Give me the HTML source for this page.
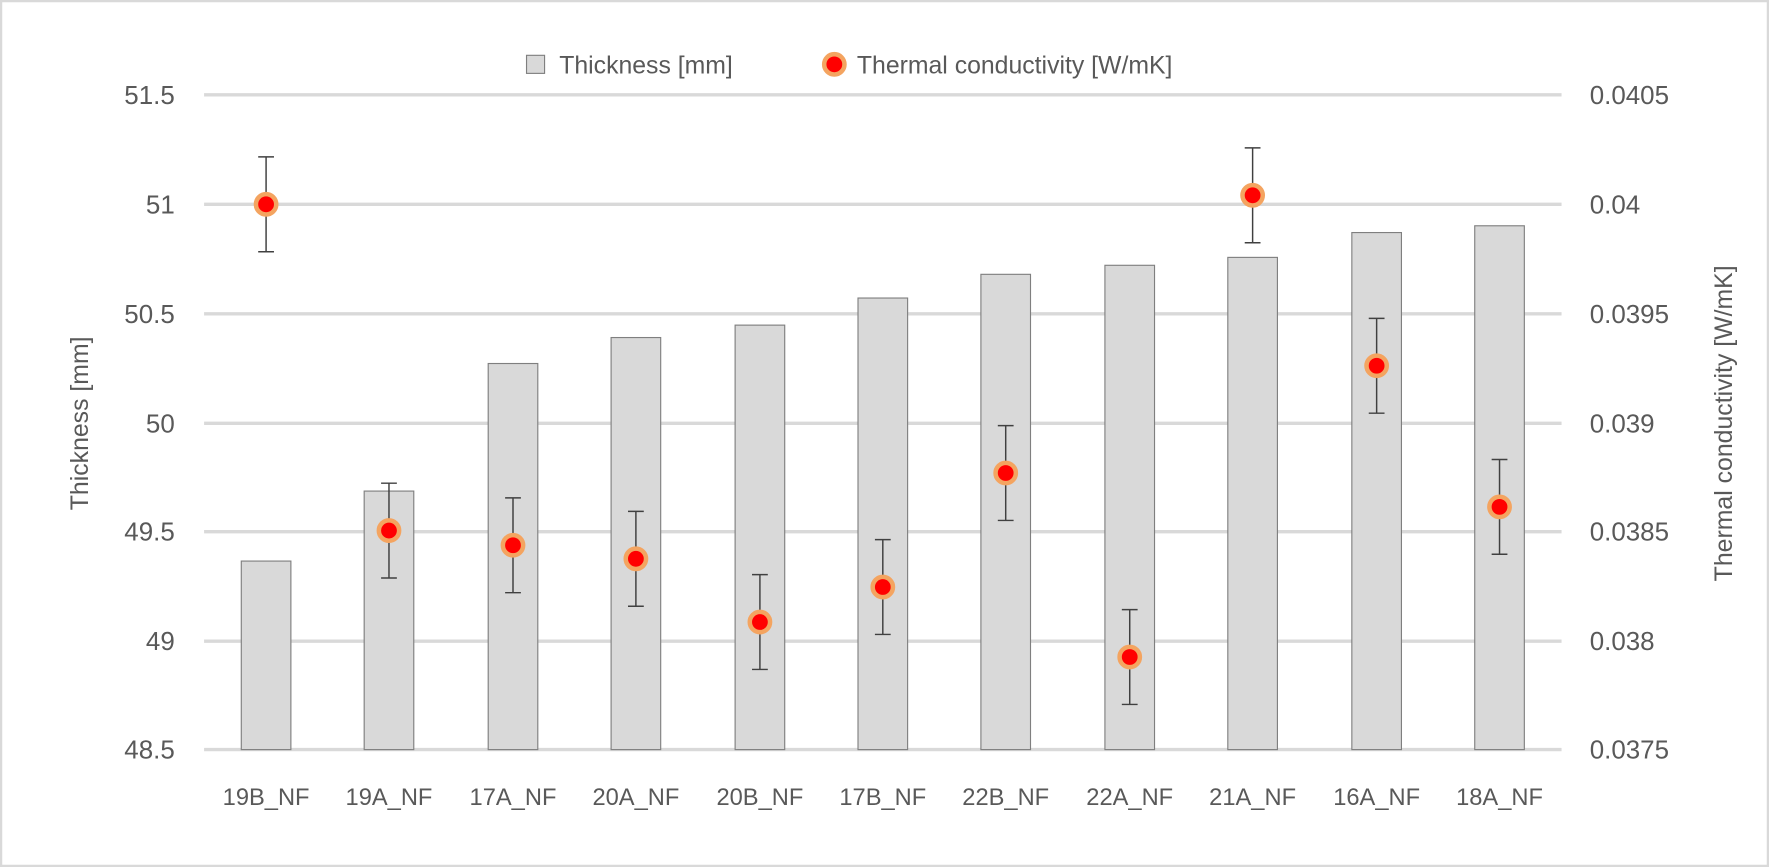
<!DOCTYPE html>
<html><head><style>html,body{margin:0;padding:0;background:#fff}svg{display:block}</style></head>
<body>
<svg width="1769" height="867" viewBox="0 0 1569 768" preserveAspectRatio="none" font-family="Liberation Sans, sans-serif" fill="#595959">
<rect x="1" y="1" width="1567" height="766" fill="#fff" stroke="#d9d9d9" stroke-width="2"/>
<g stroke="#d9d9d9" stroke-width="3">
<line x1="181" x2="1385" y1="84" y2="84"/><line x1="181" x2="1385" y1="181" y2="181"/>
<line x1="181" x2="1385" y1="278" y2="278"/><line x1="181" x2="1385" y1="375" y2="375"/>
<line x1="181" x2="1385" y1="471" y2="471"/><line x1="181" x2="1385" y1="568" y2="568"/>
<line x1="181" x2="1385" y1="664" y2="664"/>
</g>
<g fill="#d9d9d9" stroke="#7f7f7f" stroke-width="1">
<rect x="214" y="497" width="44" height="167"/>
<rect x="323" y="435" width="44" height="229"/>
<rect x="433" y="322" width="44" height="342"/>
<rect x="542" y="299" width="44" height="365"/>
<rect x="652" y="288" width="44" height="376"/>
<rect x="761" y="264" width="44" height="400"/>
<rect x="870" y="243" width="44" height="421"/>
<rect x="980" y="235" width="44" height="429"/>
<rect x="1089" y="228" width="44" height="436"/>
<rect x="1199" y="206" width="44" height="458"/>
<rect x="1308" y="200" width="44" height="464"/>
</g>
<g stroke="#404040" stroke-width="1.3" fill="none">
<path d="M236 139V223M229 139H243M229 223H243"/>
<path d="M345 428V512M338 428H352M338 512H352"/>
<path d="M455 441V525M448 441H462M448 525H462"/>
<path d="M564 453V537M557 453H571M557 537H571"/>
<path d="M674 509V593M667 509H681M667 593H681"/>
<path d="M783 478V562M776 478H790M776 562H790"/>
<path d="M892 377V461M885 377H899M885 461H899"/>
<path d="M1002 540V624M995 540H1009M995 624H1009"/>
<path d="M1111 131V215M1104 131H1118M1104 215H1118"/>
<path d="M1221 282V366M1214 282H1228M1214 366H1228"/>
<path d="M1330 407V491M1323 407H1337M1323 491H1337"/>
</g>
<g fill="#ff0000" stroke="#f4a460" stroke-width="4">
<circle cx="236" cy="181" r="9"/><circle cx="345" cy="470" r="9"/><circle cx="455" cy="483" r="9"/>
<circle cx="564" cy="495" r="9"/><circle cx="674" cy="551" r="9"/><circle cx="783" cy="520" r="9"/>
<circle cx="892" cy="419" r="9"/><circle cx="1002" cy="582" r="9"/><circle cx="1111" cy="173" r="9"/>
<circle cx="1221" cy="324" r="9"/><circle cx="1330" cy="449" r="9"/>
</g>
<g font-size="23" text-anchor="end">
<text x="155" y="92">51.5</text><text x="155" y="189">51</text><text x="155" y="286">50.5</text>
<text x="155" y="383">50</text><text x="155" y="479">49.5</text><text x="155" y="576">49</text><text x="155" y="672">48.5</text>
</g>
<g font-size="23">
<text x="1410" y="92">0.0405</text><text x="1410" y="189">0.04</text><text x="1410" y="286">0.0395</text>
<text x="1410" y="383">0.039</text><text x="1410" y="479">0.0385</text><text x="1410" y="576">0.038</text><text x="1410" y="672">0.0375</text>
</g>
<g font-size="21" text-anchor="middle">
<text x="236" y="713">19B_NF</text><text x="345" y="713">19A_NF</text><text x="455" y="713">17A_NF</text>
<text x="564" y="713">20A_NF</text><text x="674" y="713">20B_NF</text><text x="783" y="713">17B_NF</text>
<text x="892" y="713">22B_NF</text><text x="1002" y="713">22A_NF</text><text x="1111" y="713">21A_NF</text>
<text x="1221" y="713">16A_NF</text><text x="1330" y="713">18A_NF</text>
</g>
<text font-size="22" text-anchor="middle" transform="translate(78,375) rotate(-90)">Thickness [mm]</text>
<text font-size="22" text-anchor="middle" transform="translate(1536,375) rotate(-90)">Thermal conductivity [W/mK]</text>
<rect x="467" y="49" width="16" height="16" fill="#d9d9d9" stroke="#7f7f7f"/>
<text x="496" y="65" font-size="22">Thickness [mm]</text>
<circle cx="740" cy="57" r="9" fill="#ff0000" stroke="#f4a460" stroke-width="4"/>
<text x="760" y="65" font-size="22">Thermal conductivity [W/mK]</text>
</svg>
</body></html>
